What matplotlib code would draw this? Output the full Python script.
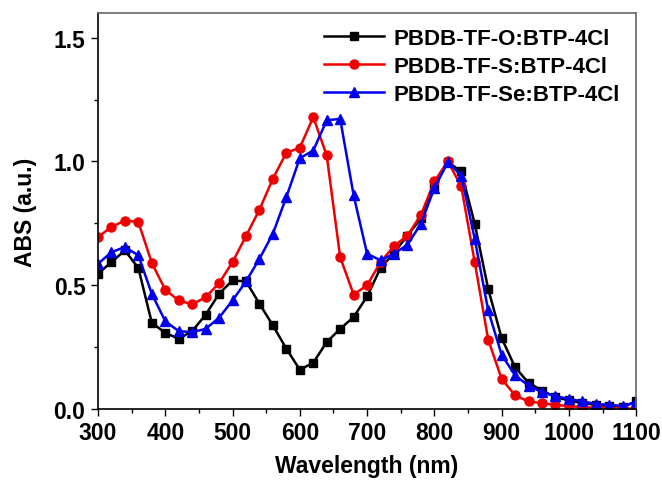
import numpy as np
import matplotlib.pyplot as plt

plt.rcParams['font.family'] = ['Liberation Sans', 'DejaVu Sans']
plt.rcParams['font.weight'] = 'bold'

# wavelength grid of the plotted points (nm)
wavelength = np.arange(300, 1101, 20)

abs_O = [0.546, 0.593, 0.640, 0.569, 0.348, 0.307, 0.283, 0.314, 0.380, 0.465,
         0.519, 0.515, 0.425, 0.337, 0.243, 0.158, 0.186, 0.270, 0.323, 0.371,
         0.454, 0.569, 0.630, 0.700, 0.770, 0.900, 0.997, 0.960, 0.748, 0.485,
         0.286, 0.168, 0.105, 0.074, 0.047, 0.034, 0.023, 0.016, 0.011, 0.007,
         0.030]
abs_S = [0.694, 0.735, 0.761, 0.755, 0.590, 0.481, 0.438, 0.422, 0.451, 0.508,
         0.593, 0.698, 0.805, 0.930, 1.035, 1.055, 1.179, 1.024, 0.613, 0.462,
         0.499, 0.593, 0.658, 0.700, 0.784, 0.919, 1.000, 0.899, 0.593, 0.280,
         0.121, 0.054, 0.030, 0.023, 0.016, 0.011, 0.007, 0.004, 0.003, 0.002,
         0.000]
abs_Se = [0.586, 0.633, 0.654, 0.620, 0.465, 0.354, 0.314, 0.310, 0.323, 0.368,
          0.438, 0.515, 0.606, 0.708, 0.856, 1.013, 1.044, 1.166, 1.172, 0.863,
          0.627, 0.600, 0.627, 0.663, 0.748, 0.892, 0.997, 0.943, 0.687, 0.398,
          0.218, 0.135, 0.094, 0.067, 0.051, 0.040, 0.030, 0.020, 0.016, 0.011,
          0.027]

labels = ['PBDB-TF-O:BTP-4Cl', 'PBDB-TF-S:BTP-4Cl', 'PBDB-TF-Se:BTP-4Cl']

fig = plt.figure(figsize=(6.62, 4.81), dpi=100)
ax = fig.add_axes([0.148, 0.148, 0.813, 0.823])

ax.plot(wavelength, abs_O, color='black', marker='s', ms=6, lw=1.8, label=labels[0])
ax.plot(wavelength, abs_S, color='#ee0000', marker='o', ms=6.5, lw=1.8, label=labels[1])
ax.plot(wavelength, abs_Se, color='#0000ee', marker='^', ms=7, lw=1.8, label=labels[2])

ax.set_xlim(300, 1100)
ax.set_ylim(0, 1.6)
ax.set_xticks(np.arange(300, 1101, 100))
ax.set_xticks(np.arange(350, 1100, 100), minor=True)
ax.set_yticks([0.0, 0.5, 1.0, 1.5])
ax.set_yticks([0.25, 0.75, 1.25], minor=True)
ax.set_yticklabels(['0.0', '0.5', '1.0', '1.5'])

ax.tick_params(which='both', direction='out', width=1, labelsize=16.5, top=False, right=False)
ax.tick_params(which='major', length=5, pad=4)
ax.tick_params(which='minor', length=3)
for lbl in ax.get_xticklabels() + ax.get_yticklabels():
    lbl.set_fontweight('bold')

for side in ['left', 'bottom']:
    ax.spines[side].set_linewidth(1.2)
for side in ['top', 'right']:
    ax.spines[side].set_color('#666666')
    ax.spines[side].set_linewidth(1.2)

ax.set_xlabel('Wavelength (nm)', fontsize=16.5, fontweight='bold', labelpad=7)
ax.set_ylabel('ABS (a.u.)', fontsize=16.5, fontweight='bold', labelpad=12)

leg = ax.legend(loc='upper right', frameon=False, fontsize=16, handlelength=2.7,
                handletextpad=0.45, labelspacing=0.3, borderaxespad=0.2,
                bbox_to_anchor=(0.995, 0.995))
for t in leg.get_texts():
    t.set_fontweight('bold')

fig.savefig('out.png', dpi=100)
